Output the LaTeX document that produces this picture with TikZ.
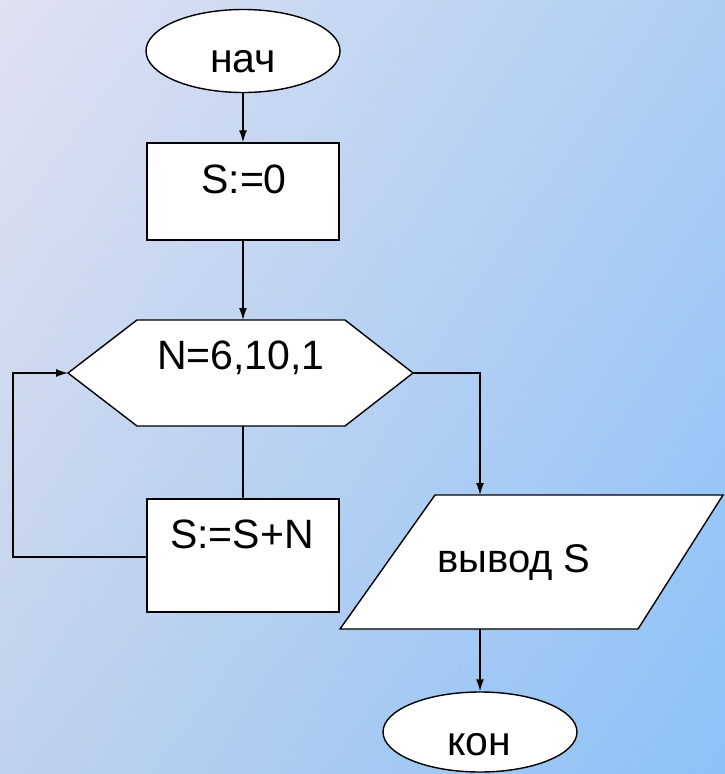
\documentclass[tikz,border=0pt]{standalone}
\usepackage{fontspec}
\setmainfont{Liberation Sans}
\usetikzlibrary{arrows.meta,shapes.geometric,shadings}
\definecolor{bgTL}{HTML}{E0E1F2}
\definecolor{bgTR}{HTML}{ADCEF3}
\definecolor{bgBL}{HTML}{BFD2EC}
\definecolor{bgBR}{HTML}{8CC1F8}
\tikzset{
  shapeline/.style={draw=black, line width=1.4pt, fill=white},
  termbox/.style={shapeline, ellipse, inner sep=0pt, minimum width=194pt},
  procbox/.style={shapeline, rectangle, inner sep=0pt, minimum width=192pt},
  bigtext/.style={anchor=base, inner sep=0pt, font=\fontsize{41}{48}\selectfont},
  midtext/.style={anchor=base, inner sep=0pt, font=\fontsize{40}{46}\selectfont},
  conn/.style={draw=black, line width=1.4pt},
  arr/.style={conn, -{Latex[length=12pt,width=8pt]}}
}
\begin{document}
\begin{tikzpicture}[x=1pt,y=-1pt]
\shade[shading=bilinear interpolation, upper left=bgTL, upper right=bgTR, lower left=bgBL, lower right=bgBR] (0,0) rectangle (725,774);
\useasboundingbox (0,0) rectangle (725,774);

% shapes
\node[termbox, minimum height=83pt] (start) at (243,51) {};
\node[procbox, minimum height=97pt] (init) at (243,191.5) {};
\coordinate (hexT) at (243,320);
\coordinate (hexB) at (243,426);
\coordinate (hexL) at (68,373);
\coordinate (hexR) at (413,373);
\path[shapeline] (hexL) -- (137,320) -- (345,320) -- (hexR) -- (345,426) -- (137,426) -- cycle;
\node[procbox, minimum height=113pt] (body) at (243,555.5) {};
\coordinate (outT) at (480,495);
\coordinate (outB) at (480,629);
\path[shapeline] (435,495) -- (723,495) -- (638,629) -- (340,629) -- cycle;
\node[termbox, minimum height=80pt] (stop) at (480,732) {};

% texts
\node[bigtext] (tstart) at (243,72) {нач};
\node[bigtext] (tinit) at (244,193) {S:=0};
\node[bigtext] (tloop) at (241,369) {N=6,10,1};
\node[bigtext] (tbody) at (242,548) {S:=S+N};
\node[midtext] (tout) at (514,572) {вывод S};
\node[bigtext] (tstop) at (479,755) {кон};

% connectors
\coordinate (loopX) at (13,557);
\draw[arr] (start) -- (init);
\draw[arr] (init) -- (hexT);
\draw[conn] (hexB) -- (body);
\draw[arr] (body.west |- loopX) -- (loopX) |- (hexL);
\draw[arr] (hexR) -| (outT);
\draw[arr] (outB) -- (stop);
\end{tikzpicture}
\end{document}
